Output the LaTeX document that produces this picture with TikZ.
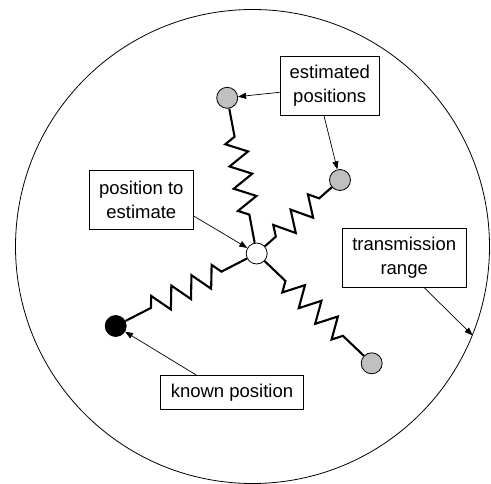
\documentclass[tikz,border=0pt]{standalone}
\usepackage{fontspec}
\setmainfont{Liberation Sans}
\usetikzlibrary{calc,arrows.meta}
\definecolor{nodegray}{HTML}{C0C0C0}
\newcommand\drawspring[6]{%
  \foreach \i in {1,...,#4}{%
    \pgfmathsetmacro\tpos{#5+(\i-0.5)*(#6-#5)/#4}%
    \pgfmathsetmacro\tang{90*#3*(2*mod(\i,2)-1)}%
    \coordinate (#1#2-\i) at ($(#1)!\tpos!(#2)!10.5pt!\tang:(#2)$);
  }%
  \draw[springline] (#1) -- ($(#1)!#5!(#2)$) \foreach \i in {1,...,#4}{ -- (#1#2-\i)} -- ($(#1)!#6!(#2)$) -- (#2);
}
\begin{document}
\begin{tikzpicture}[x=1pt,y=-1pt,
  font=\fontsize{18.5}{24}\selectfont,
  rangecircle/.style={circle,draw,line width=0.8pt,minimum size=474pt,inner sep=0pt},
  dot/.style={circle,draw,line width=0.8pt,minimum size=21pt,inner sep=0pt},
  lbl/.style={draw,fill=white,line width=0.8pt,align=center,inner sep=0pt},
  springline/.style={line width=2.1pt,line join=miter},
  pointer/.style={line width=0.7pt,-{Triangle[length=8pt,width=6pt]}}]
\useasboundingbox (0,0) rectangle (491,484);
\node[rangecircle] (range) at (252.5,246.5) {};
\node[dot,fill=white] (c) at (256.7,253.5) {};
\node[dot,fill=nodegray] (g1) at (227.2,97.8) {};
\node[dot,fill=nodegray] (g2) at (340,180) {};
\node[dot,fill=nodegray] (g3) at (371.7,363.3) {};
\node[dot,fill=black] (k) at (115.7,326) {};
\node[lbl,minimum width=99.5pt,minimum height=59pt] (est) at (329.75,86) {estimated\\positions};
\node[lbl,minimum width=104pt,minimum height=59pt] (pos) at (141.3,199.5) {position to\\estimate};
\node[lbl,minimum width=123.7pt,minimum height=58.6pt] (trans) at (404.2,258) {transmission\\range};
\node[lbl,minimum width=142.6pt,minimum height=33.6pt] (known) at (232,392.5) {known position};
\drawspring{c}{k}{-1}{7}{0.25}{0.75}
\drawspring{c}{g1}{1}{7}{0.25}{0.75}
\drawspring{c}{g2}{1}{5}{0.23}{0.75}
\drawspring{c}{g3}{-1}{7}{0.25}{0.75}
\draw[pointer] ([yshift=-6.3pt]est.west) -- (g1);
\draw[pointer] ([xshift=-5.75pt]est.south) -- (g2);
\draw[pointer] ([yshift=-16.5pt]pos.east) -- (c);
\draw[pointer] ([xshift=20pt]trans.south) -- (range.-22.8);
\draw[pointer] ([xshift=-35.3pt]known.north) -- (k);
\end{tikzpicture}
\end{document}
